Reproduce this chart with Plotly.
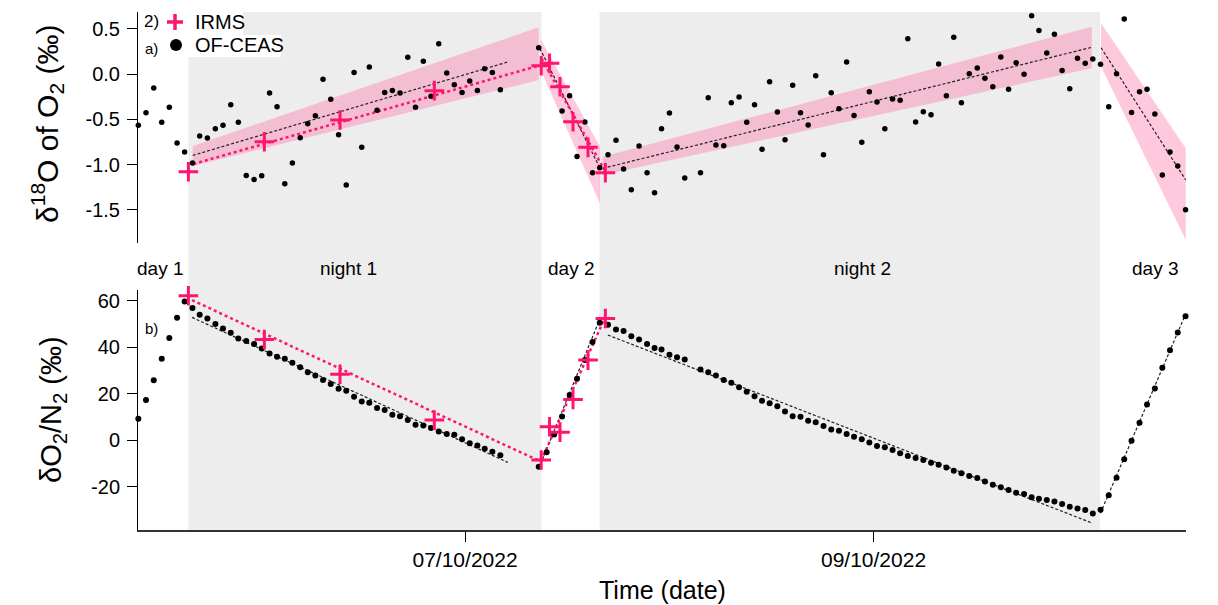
import pandas as pd
import plotly.graph_objects as go
from plotly.subplots import make_subplots

# ---------------- data (hours since 07/10/2022 00:00) ----------------
T0 = pd.Timestamp("2022-10-07 00:00")

ofceas_hours = [
    -38.39, -37.49, -36.58, -35.64, -34.75, -33.84, -32.95,
    -32.03, -31.18, -30.28, -29.34, -28.44, -27.53, -26.64, -25.71, -24.79, -23.89,
    -22.97, -22.09, -21.18, -20.29, -19.37, -18.48, -17.59, -16.69, -15.78, -14.86,
    -13.96, -13.04, -12.14, -11.25, -10.34, -9.44, -8.54, -7.64, -6.73, -5.82,
    -4.90, -4.00, -3.09, -2.15, -1.26, -0.35, 0.55, 1.45, 2.31, 3.21, 4.15,
    8.66, 9.59, 10.47, 11.40, 12.29, 13.16, 14.08, 14.98, 15.83,
    16.80, 17.74, 18.63, 19.54, 20.45, 21.39, 22.27, 23.09, 24.02, 24.91, 25.82,
    27.67, 28.58, 29.48, 30.40, 31.29, 32.20, 33.10, 34.02, 34.90, 35.79,
    36.70, 37.60, 38.50, 39.42, 40.32, 41.21, 42.12, 43.03, 43.94, 44.84,
    45.71, 46.62, 47.51, 48.41, 49.33, 50.24, 51.13, 52.03, 52.95, 53.85,
    54.76, 55.65, 56.56, 57.43, 58.33, 59.25, 60.19, 61.09, 62.02, 62.96,
    63.87, 64.76, 65.69, 66.58, 67.44, 68.36, 69.26, 70.16, 71.06, 71.97,
    72.88, 73.77, 74.68,
    75.64, 76.56, 77.46, 78.32, 79.26, 80.14, 81.06, 81.94, 82.84, 83.75, 84.67,
]

ofceas_d18O = [
    -0.567, -0.427, -0.155, -0.534, -0.368, -0.762, -0.862,
    -0.983, -0.685, -0.707, -0.604, -0.567, -0.339, -0.534, -1.120, -1.164, -1.123,
    -0.210, -0.361, -1.212, -0.983, -0.704, -0.549, -0.460, -0.059, -0.280, -0.670,
    -1.227, 0.018, -0.810, 0.077, -0.401, -0.203, -0.181, -0.210, 0.184, -0.368,
    0.140, -0.247, 0.335, 0.011, -0.118, -0.203, -0.077, -0.181, 0.059, 0.018, -0.173,
    0.291, None, None, -0.409, -0.239, -0.910, -0.530, -1.090, -1.035,
    -0.891, -0.733, -1.050, -1.278, -0.796, -1.090, -1.311, -0.604, -0.431, -0.807, -1.149,
    -1.090, -0.262, -0.785, -0.792, -0.317, -0.254, -0.534, -0.339, -0.832, -0.085,
    -0.420, -0.726, -0.125, -0.427, -0.564, -0.018, -0.891, -0.206, -0.383, 0.133,
    -0.457, -0.755, -0.195, -0.309, -0.604, -0.276, -0.291, 0.390, -0.530, -0.416,
    -0.449, 0.110, -0.239, 0.405, -0.317, 0.004, 0.066, -0.048, -0.140, 0.188,
    -0.169, 0.125, -0.004, 0.644, 0.482, 0.232, 0.438, 0.040, -0.162, 0.173,
    0.118, 0.166, 0.107,
    -0.361, 0.004, 0.608, -0.424, -0.195, -0.169, -0.442, -1.116, -0.862, -1.017, -1.499,
]

ofceas_dO2N2 = [
    9.2, 17.2, 25.7, 35.0, 43.9, 52.6, 59.6,
    56.8, 53.9, 52.3, 49.9, 48.0, 46.2, 43.7, 42.6, 41.3, 39.4,
    37.3, 35.8, 35.0, 33.3, 31.3, 29.2, 27.8, 25.8, 24.1, 22.1,
    21.2, 18.6, 16.6, 16.1, 13.8, 12.9, 10.9, 10.2, 8.6, 6.6,
    6.3, 5.2, 3.7, 2.6, 2.3, 0.3, -1.4, -2.3, -3.7, -5.0, -6.5,
    -11.5, -5.2, 2.4, 10.1, 19.4, 26.4, 34.4, 42.2, 50.5,
    49.6, 47.6, 46.9, 44.7, 43.3, 41.3, 39.6, 39.0, 36.7, 35.6, 34.7,
    30.4, 29.2, 27.8, 25.8, 24.7, 22.7, 20.8, 18.9, 16.9, 15.8,
    14.6, 12.3, 10.3, 10.0, 8.3, 7.7, 6.0, 4.6, 4.0, 2.6,
    1.4, 0.3, -1.1, -2.6, -3.1, -4.3, -5.7, -6.9, -7.7, -8.6,
    -9.8, -10.6, -11.8, -13.2, -14.3, -15.5, -16.3, -17.8, -19.2, -20.3,
    -21.5, -22.7, -23.2, -24.6, -25.2, -25.8, -26.4, -27.5, -28.7, -29.5,
    -30.1, -31.6, -30.0,
    -23.7, -16.2, -8.3, -0.3, 7.4, 15.3, 22.2, 31.1, 38.7, 46.3, 53.3,
]

irms_hours = [-32.51, -23.58, -14.69, -3.61, 8.95, 9.93, 11.16, 12.69, 14.45, 16.49]
irms_d18O = [-1.080, -0.748, -0.508, -0.184, 0.092, 0.118, -0.140, -0.527, -0.810, -1.090]
irms_dO2N2 = [62.1, 43.3, 28.3, 8.6, -8.6, 5.7, 3.4, 17.5, 34.4, 52.3]

# linear fits per phase: (start hour, end hour, start value, end value)
fit_d18O_ofceas = [(-32.0, 5.02, -0.899, 0.133), (8.8, 15.86, 0.28, -1.04),
                   (16.18, 73.65, -1.042, 0.295), (74.74, 84.69, 0.29, -1.17)]
fit_d18O_irms = [(-31.93, 8.66, -0.994, 0.092), (8.99, 16.50, 0.17, -1.08)]
# confidence bands: (start h, end h, upper start, upper end, lower start, lower end)
band_d18O = [(-32.0, 8.66, -0.796, 0.516, -1.017, -0.066),
             (8.9, 15.86, 0.38, -0.80, 0.04, -1.43),
             (16.18, 73.65, -0.914, 0.523, -1.116, 0.063),
             (74.74, 84.69, 0.56, -0.82, 0.08, -1.83)]
fit_dO2N2_ofceas = [(-32.08, 5.02, 52.8, -9.6), (8.66, 15.79, -12.2, 51.6),
                    (16.78, 73.76, 45.2, -35.8), (74.66, 84.65, -31.5, 54.0)]
fit_dO2N2_irms = [(-32.08, 8.93, 60.2, -9.3), (8.93, 16.47, -9.0, 53.0)]

night_start_h = [-32.51, 15.80]
night_end_h = [8.99, 74.62]
phase_labels = ["day 1", "night 1", "day 2", "night 2", "day 3"]
phase_label_h = [-35.84, -13.75, 12.46, 46.65, 81.08]

legend_names = ["IRMS", "OF-CEAS"]
x_tick_h = [0, 48]
x_tick_text = ["07/10/2022", "09/10/2022"]
y1_ticks = [-1.5, -1.0, -0.5, 0.0, 0.5]
y1_text = ["-1.5", "-1.0", "-0.5", "0.0", "0.5"]
y2_ticks = [-20, 0, 20, 40, 60]
y2_text = ["-20", "0", "20", "40", "60"]
x_range_h = [-38.43, 84.72]


def ts(h):
    return None if h is None else (T0 + pd.Timedelta(hours=h)).strftime("%Y-%m-%d %H:%M:%S")


def tl(hs):
    return [ts(h) for h in hs]


# pixel helpers for the plot area (used only for texts / legend placement)
L, R, TOP, BOT = 138, 1186, 12, 530


def px(x):
    return (x - L) / (R - L)


def py(y):
    return (BOT - y) / (BOT - TOP)


PINK = "#ff1470"
BAND = "rgba(255,120,170,0.40)"
FONT = "Liberation Sans, Arial, sans-serif"

fig = make_subplots(rows=2, cols=1, shared_xaxes=True)


def seg_xy(segs):
    xs, ys = [], []
    for h0, h1, v0, v1 in segs:
        xs += [ts(h0), ts(h1), None]
        ys += [v0, v1, None]
    return xs, ys


# bands
for h0, h1, u0, u1, l0, l1 in band_d18O:
    fig.add_trace(go.Scatter(x=tl([h0, h1, h1, h0, h0]), y=[u0, u1, l1, l0, u0],
                             mode="lines", fill="toself", fillcolor=BAND,
                             line=dict(width=0), hoverinfo="skip", showlegend=False),
                  row=1, col=1)

# fit lines
for segs, row, color, width, dash in [
        (fit_d18O_ofceas, 1, "#222222", 1.2, "3px,2px"),
        (fit_d18O_irms, 1, PINK, 2.5, "dot"),
        (fit_dO2N2_ofceas, 2, "#222222", 1.2, "3px,2px"),
        (fit_dO2N2_irms, 2, PINK, 2.5, "dot")]:
    xs, ys = seg_xy(segs)
    fig.add_trace(go.Scatter(x=xs, y=ys, mode="lines",
                             line=dict(color=color, width=width, dash=dash),
                             showlegend=False, hoverinfo="skip"), row=row, col=1)

# OF-CEAS points
fig.add_trace(go.Scatter(x=tl(ofceas_hours), y=ofceas_d18O, mode="markers",
                         marker=dict(color="black", size=5.5), cliponaxis=False,
                         showlegend=False, name="OF-CEAS"), row=1, col=1)
fig.add_trace(go.Scatter(x=tl(ofceas_hours), y=ofceas_dO2N2, mode="markers",
                         marker=dict(color="black", size=6), cliponaxis=False,
                         showlegend=False, name="OF-CEAS"), row=2, col=1)

# IRMS points
cross = dict(symbol="cross-thin", size=14, color=PINK, line=dict(color=PINK, width=3))
fig.add_trace(go.Scatter(x=tl(irms_hours), y=irms_d18O, mode="markers", marker=cross,
                         cliponaxis=False, showlegend=False, name="IRMS"), row=1, col=1)
fig.add_trace(go.Scatter(x=tl(irms_hours), y=irms_dO2N2, mode="markers", marker=cross,
                         cliponaxis=False, showlegend=False, name="IRMS"), row=2, col=1)

# night shading
shapes = []
for s, e in zip(night_start_h, night_end_h):
    shapes.append(dict(type="rect", xref="x2", yref="paper", x0=ts(s), x1=ts(e),
                       y0=0, y1=1, fillcolor="#ededed", line=dict(width=0), layer="below"))

# legend (white boxes + symbols + texts)
shapes += [
    dict(type="rect", xref="paper", yref="paper", x0=px(141), x1=px(243), y0=py(35), y1=py(11),
         fillcolor="white", line=dict(width=0), layer="above"),
    dict(type="rect", xref="paper", yref="paper", x0=px(141), x1=px(281), y0=py(57), y1=py(35),
         fillcolor="white", line=dict(width=0), layer="above"),
    dict(type="line", xref="paper", yref="paper", xsizemode="pixel", ysizemode="pixel",
         xanchor=px(175), yanchor=py(22), x0=-8, x1=8, y0=0, y1=0,
         line=dict(color=PINK, width=3.5), layer="above"),
    dict(type="line", xref="paper", yref="paper", xsizemode="pixel", ysizemode="pixel",
         xanchor=px(175), yanchor=py(22), x0=0, x1=0, y0=-8, y1=8,
         line=dict(color=PINK, width=3.5), layer="above"),
    dict(type="circle", xref="paper", yref="paper", xsizemode="pixel", ysizemode="pixel",
         xanchor=px(176), yanchor=py(45), x0=-6, x1=6, y0=-6, y1=6,
         fillcolor="black", line=dict(width=0), layer="above"),
]

annotations = []
for name, yy in zip(legend_names, [22, 45]):
    annotations.append(dict(text=name, xref="paper", yref="paper", x=px(193), y=py(yy),
                            xanchor="left", yanchor="middle", showarrow=False,
                            font=dict(size=20, color="black", family=FONT)))
for lab, h in zip(phase_labels, phase_label_h):
    annotations.append(dict(text=lab, xref="x2", yref="paper", x=ts(h), y=py(268),
                            xanchor="center", yanchor="middle", showarrow=False,
                            font=dict(size=19, color="black", family=FONT)))
for txt, xx, yy, fs in [("2)", 151, 22, 17), ("a)", 151, 49, 15), ("b)", 151, 328, 15)]:
    annotations.append(dict(text=txt, xref="paper", yref="paper", x=px(xx), y=py(yy),
                            xanchor="center", yanchor="middle", showarrow=False,
                            font=dict(size=fs, color="black", family=FONT)))
annotations += [
    dict(text="δ<sup>18</sup>O of O<sub>2</sub> (‰)", textangle=-90, xref="paper", yref="paper",
         x=px(47), y=py(124), xanchor="center", yanchor="middle", showarrow=False,
         font=dict(size=30, color="black", family=FONT)),
    dict(text="δO<sub>2</sub>/N<sub>2</sub> (‰)", textangle=-90, xref="paper", yref="paper",
         x=px(53), y=py(410), xanchor="center", yanchor="middle", showarrow=False,
         font=dict(size=29, color="black", family=FONT)),
    dict(text="Time (date)", xref="paper", yref="paper", x=px(662), y=py(590),
         xanchor="center", yanchor="middle", showarrow=False,
         font=dict(size=25, color="black", family=FONT)),
]

axis_common = dict(showgrid=False, zeroline=False, showline=True, linecolor="black",
                   linewidth=1, ticks="outside", ticklen=10, tickwidth=1, tickcolor="black",
                   tickfont=dict(size=20, color="black", family=FONT))

fig.update_layout(
    width=1218, height=605,
    margin=dict(l=L, r=1218 - R, t=TOP, b=605 - BOT),
    paper_bgcolor="white", plot_bgcolor="white",
    font=dict(family=FONT, color="black"),
    shapes=shapes, annotations=annotations,
    showlegend=False,
    xaxis=dict(visible=False, matches="x2", type="date", range=[ts(x_range_h[0]), ts(x_range_h[1])]),
    xaxis2=dict(type="date", range=[ts(x_range_h[0]), ts(x_range_h[1])],
                tickvals=tl(x_tick_h), ticktext=x_tick_text,
                **{**axis_common, "linewidth": 1.5, "linecolor": "#333333",
                   "tickfont": dict(size=21, color="black", family=FONT)}),
    yaxis=dict(domain=[0.554, 1.0], range=[-1.867, 0.685], tickvals=y1_ticks,
               ticktext=y1_text, ticklabelstandoff=3, **axis_common),
    yaxis2=dict(domain=[0.0, 0.463], range=[-38.7, 64.5], tickvals=y2_ticks,
                ticktext=y2_text, ticklabelstandoff=3, **axis_common),
)

fig.write_html("out.html", config={"displayModeBar": False},
               post_script="document.body.style.margin='0';")
